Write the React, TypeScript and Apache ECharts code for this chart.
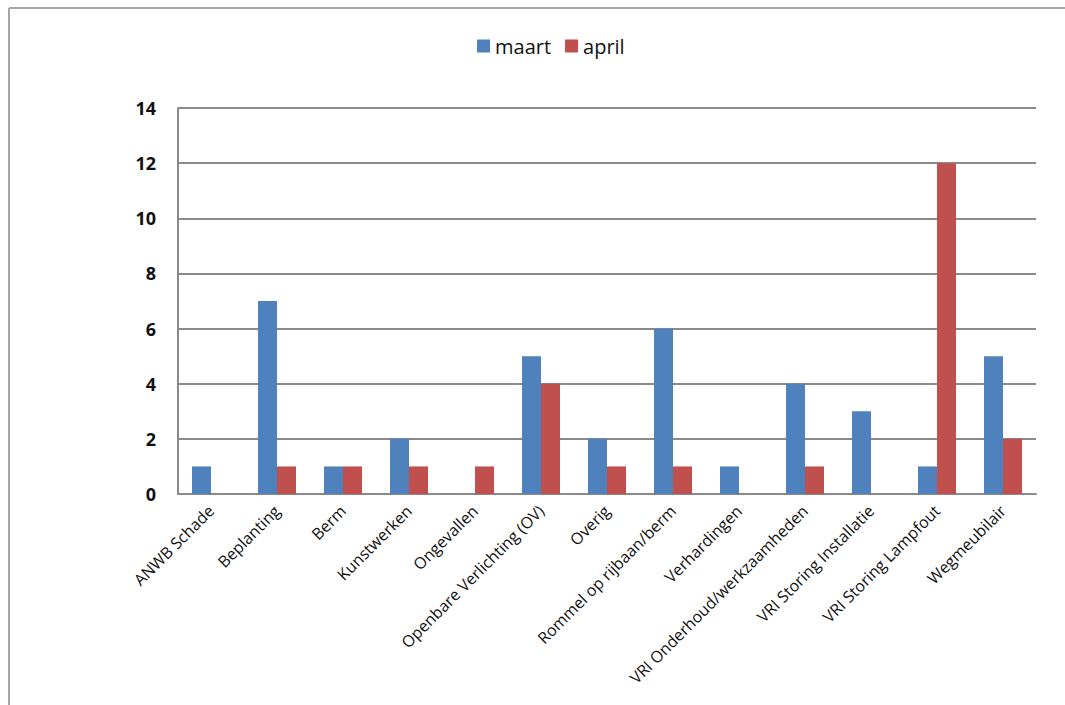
import React, { useEffect, useRef } from "react";
import * as echarts from "echarts";

const categories = [
  "ANWB Schade",
  "Beplanting",
  "Berm",
  "Kunstwerken",
  "Ongevallen",
  "Openbare Verlichting (OV)",
  "Overig",
  "Rommel op rijbaan/berm",
  "Verhardingen",
  "VRI Onderhoud/werkzaamheden",
  "VRI Storing Installatie",
  "VRI Storing Lampfout",
  "Wegmeubilair",
];
const maart = [1, 7, 1, 2, 0, 5, 2, 6, 1, 4, 3, 1, 5];
const april = [0, 1, 1, 1, 1, 4, 1, 1, 0, 1, 0, 12, 2];

export default function App() {
  const ref = useRef<HTMLDivElement>(null);
  useEffect(() => {
    if (!ref.current) return;
    const chart = echarts.init(ref.current, null, { renderer: "svg" });
    chart.setOption({
      animation: false,
      backgroundColor: "#ffffff",
      legend: {
        top: 31,
        left: 472,
        itemWidth: 13,
        itemHeight: 13,
        itemGap: 14,
        icon: "rect",
        textStyle: { fontFamily: "Open Sans", fontSize: 20, color: "#111" },
        data: ["maart", "april"],
      },
      grid: { left: 178, top: 108, right: 29, bottom: 211, containLabel: false },
      xAxis: {
        type: "category",
        data: categories,
        axisLine: { show: true, lineStyle: { color: "#8a8a8a", width: 2 } },
        axisTick: { show: false },
        axisLabel: {
          rotate: 45,
          interval: 0,
          margin: 14,
          fontFamily: "Open Sans",
          fontSize: 16,
          color: "#111",
        },
      },
      yAxis: {
        type: "value",
        min: 0,
        max: 14,
        interval: 2,
        axisLine: { show: true, lineStyle: { color: "#8a8a8a", width: 2 } },
        axisTick: { show: false },
        splitLine: { show: true, lineStyle: { color: "#8a8a8a", width: 2 } },
        axisLabel: {
          margin: 22,
          fontFamily: "Open Sans",
          fontWeight: "bold",
          fontSize: 18,
          color: "#111",
        },
      },
      series: [
        {
          name: "maart",
          type: "bar",
          data: maart,
          barWidth: 19,
          barGap: "0%",
          itemStyle: { color: "#4F81BD" },
        },
        {
          name: "april",
          type: "bar",
          data: april,
          barWidth: 19,
          barGap: "0%",
          itemStyle: { color: "#C0504D" },
        },
      ],
      graphic: [
        {
          type: "line",
          shape: { x1: 9, y1: 8, x2: 9, y2: 705 },
          style: { stroke: "#a6a6a6", lineWidth: 2 },
        },
        {
          type: "line",
          shape: { x1: 9, y1: 8, x2: 1065, y2: 8 },
          style: { stroke: "#a6a6a6", lineWidth: 2 },
        },
      ],
    });
    return () => chart.dispose();
  }, []);
  return (
    <div
      ref={ref}
      style={{ position: "fixed", left: 0, top: 0, width: 1065, height: 705 }}
    />
  );
}
